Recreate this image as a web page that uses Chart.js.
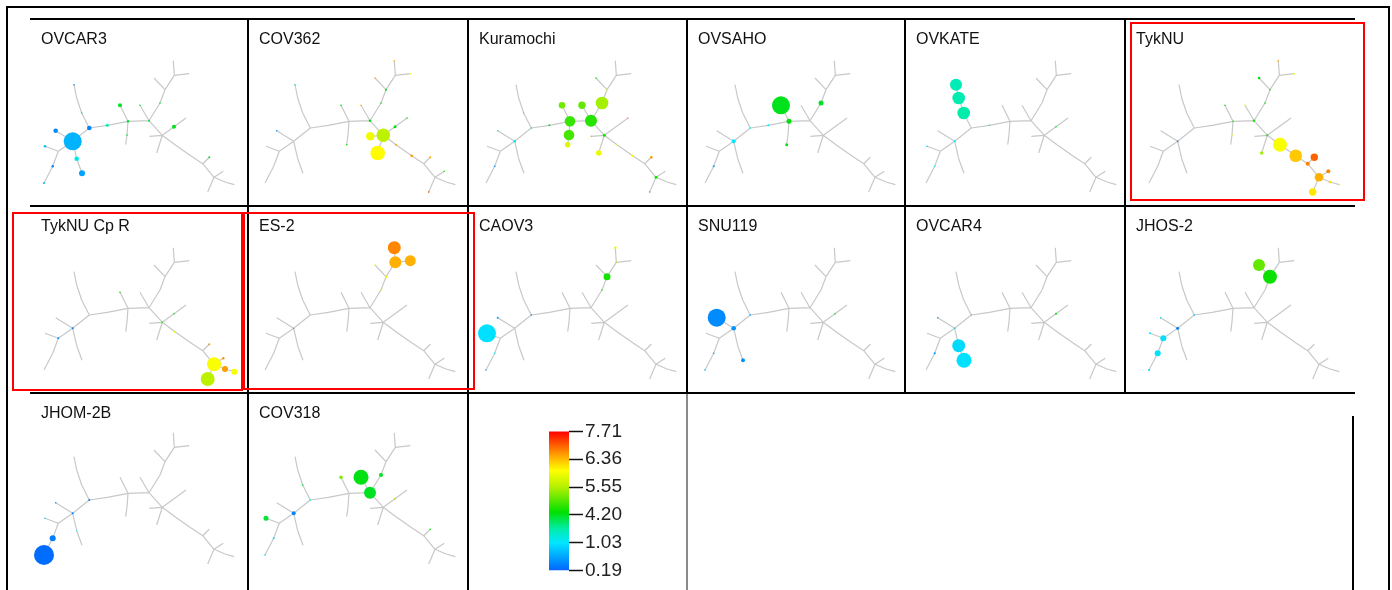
<!DOCTYPE html>
<html lang="en">
<head>
<meta charset="UTF-8">
<title>Cluster trees per cell line</title>
<script src="https://cdn.jsdelivr.net/npm/chart.js"></script>
<style>
  html, body { margin: 0; padding: 0; background: #fff; }
  #sheet { position: relative; width: 1392px; height: 590px; overflow: hidden; }
  #sheet canvas { position: absolute; }
  .ln { position: absolute; background: #000; }
  .box { position: absolute; border: 2px solid #ff0000; box-sizing: border-box; }
</style>
</head>
<body>
<div id="sheet">
  <!-- outer frame -->
  <div class="ln" style="left:6px;top:6px;width:1384px;height:2px"></div>
  <div class="ln" style="left:6px;top:6px;width:2px;height:590px"></div>
  <div class="ln" style="left:1388px;top:6px;width:2px;height:590px"></div>
  <!-- table rules -->
  <div class="ln" style="left:30px;top:18px;width:1325px;height:2px"></div>
  <div class="ln" style="left:30px;top:205px;width:1325px;height:2px"></div>
  <div class="ln" style="left:30px;top:392px;width:1325px;height:2px"></div>
  <div class="ln" style="left:247px;top:18px;width:2px;height:580px"></div>
  <div class="ln" style="left:467px;top:18px;width:2px;height:580px"></div>
  <div class="ln" style="left:686px;top:18px;width:2px;height:376px"></div>
  <div class="ln" style="left:686px;top:394px;width:2px;height:200px;background:#8a8a8a"></div>
  <div class="ln" style="left:904px;top:18px;width:2px;height:376px"></div>
  <div class="ln" style="left:1124px;top:18px;width:2px;height:376px"></div>
  <div class="ln" style="left:1352px;top:416px;width:2px;height:180px"></div>
</div>
<script>
// tree layout (same tree in every panel)
const nodeNames = ['A','n1','n2','n3','n4','n5','n6','n7','B','n9','n9b','n10','n11','C','n13','n14a','n14','D','n16','n17','E','n19','F','n21','n22','G','n24','n25','n26','n27','n28','n29','H','n31','I','n33','n34a','n34','n35'];
const nodeX = [62.7,45.7,48.3,35,42.7,34,66.7,72,79.3,71.7,66.7,64,97.3,118,110,117,115.7,139,130,150,155,144,164.3,163.3,179.3,152.3,139.3,146.7,164,176,165,180.7,192.7,199.3,204,213.3,215,224.3,197.7];
const nodeY = [123.3,112.7,133.3,128.3,148.3,165,140.7,155.3,110,95,80,66.7,107.3,103.3,87.3,117,126.7,102.7,87.3,85,71.7,60,57.3,42.7,55.7,117.3,118.3,135,108.7,100,126.7,137.7,145.7,139.3,159.3,153.3,164,166.7,174];
const treeEdges = [
  ['A','n1'],['A','n2'],['n2','n3'],['n2','n4'],['n4','n5'],['A','n6'],['n6','n7'],
  ['A','B'],['B','n9'],['n9','n9b'],['n9b','n10'],['B','n11'],['n11','C'],
  ['C','n13'],['C','n14a'],['n14a','n14'],['C','D'],['D','n16'],['D','n17'],['n17','E'],
  ['E','n19'],['E','F'],['F','n21'],['F','n22'],['D','G'],['G','n24'],['G','n25'],
  ['G','n26'],['n26','n27'],['G','n28'],['n28','n29'],['n29','H'],['H','n31'],['H','I'],
  ['I','n33'],['I','n34a'],['n34a','n34'],['I','n35']
];

// colour scale
const scaleTicks = [0.19, 1.03, 4.20, 5.55, 6.36, 7.71];
const scaleLabels = ['0.19', '1.03', '4.20', '5.55', '6.36', '7.71'];

// clusters per cell line: [node, value, radius]
const OVCAR3 = [['A',0.7,9],['n1',0.45,2.3],['n3',0.8,1.3],['n4',0.4,1.2],['n5',0.8,1],['n6',1.3,2.3],['n7',0.6,3],['B',0.4,2.3],['n11',2.5,1.5],['C',4.0,1.2],['n13',4.1,2],['n14a',4.0,0.8],['D',3.8,1],['n26',4.2,2],['n31',4.0,1],['n10',0.5,0.8],['n9',3.5,0.8],['n17',4.0,0.8],['n16',4.0,0.8]];
const COV362 = [['G',5.6,6.7],['n24',5.95,4.3],['n25',6.05,7.3],['D',4.3,1.2],['n26',4.3,1.5],['n27',4.2,0.8],['n28',6.5,1],['n29',6.6,1.3],['n31',6.5,1],['n33',4.5,0.8],['n35',7.3,0.8],['E',4.3,1],['n19',6.5,0.8],['n21',6.5,0.8],['n22',6.0,0.8],['n17',4.4,0.8],['n16',6.5,0.8],['n13',4.3,0.8],['n14',4.3,0.8],['n1',0.5,0.8],['n10',3.0,0.8]];
const Kuramochi = [['C',4.7,5.3],['D',4.6,6],['n17',5.45,6.3],['n16',5.0,3.7],['n13',5.1,3.3],['n14a',4.8,5.3],['n14',5.8,2.7],['n25',5.9,2.7],['n11',4.0,1],['B',2.0,0.8],['A',1.2,1.3],['n1',1.3,0.8],['n4',0.5,0.8],['n9',4.0,0.6],['G',4.5,1.5],['n24',6.5,0.8],['n28',5.9,0.8],['n29',6.0,1.3],['n31',6.6,1.3],['I',4.5,1.5],['n35',4.5,0.8],['n19',4.3,0.8],['E',5.9,0.8],['n27',7.5,0.6]];
const OVSAHO = [['n13',4.2,9],['C',4.3,2.5],['n17',4.1,2.5],['n14',4.2,1.5],['A',1.1,2],['n4',0.6,1],['n11',1.3,1],['B',1.5,0.8]];
const OVKATE = [['n10',2.4,6],['n9b',2.5,6.3],['n9',2.6,6.3],['n11',1.5,0.8],['A',1.1,1],['n3',0.9,0.8],['n4',1.1,0.8],['n26',4.2,0.8]];
const TykNU = [['n28',6.0,7],['n29',6.3,6.3],['n31',7.0,3.7],['H',6.8,2],['I',6.45,4.3],['n33',6.75,2],['n34a',6.2,1.3],['n34',5.95,0.8],['n35',6.15,3.7],['n25',5.4,1.7],['G',4.5,1],['n19',4.3,1.3],['E',4.4,0.8],['n17',4.4,0.8],['n21',6.6,0.8],['n22',5.9,0.8],['D',4.5,1.2],['n16',5.9,0.8],['C',4.5,0.8],['n13',4.4,0.8],['n14a',5.9,0.8],['A',0.3,0.8]];
const TykNUCpR = [['I',6.0,7],['n35',5.6,7],['n34a',6.6,3],['n34',6.0,3],['n33',6.7,1.2],['n31',6.6,1],['n28',5.9,1],['A',0.4,1],['n2',0.5,1],['n13',4.3,0.8],['n26',4.4,0.8],['G',4.5,0.8]];
const ES2 = [['n21',6.75,6.5],['F',6.45,6],['n22',6.45,5.5],['E',5.9,1.2],['n19',6.0,0.8],['n17',5.8,0.8],['A',0.5,0.6]];
const CAOV3 = [['n3',1.0,9],['E',4.5,3.5],['n21',5.9,1.2],['F',5.5,0.8],['n1',0.6,1],['n4',1.0,0.8],['n5',0.6,0.8],['B',0.5,0.8],['n17',4.5,0.8]];
const SNU119 = [['n1',0.45,9],['A',0.5,2.3],['n7',0.5,2],['n4',0.6,0.8],['n5',0.7,0.8],['n26',4.2,0.8],['B',0.6,0.8]];
const OVCAR4 = [['n6',0.95,6.5],['n7',1.0,7.5],['n1',0.5,0.8],['n4',0.5,1],['A',0.8,0.8],['n26',4.2,1],['B',0.7,0.6]];
const JHOS2 = [['n19',5.0,6],['E',4.4,7],['n2',1.0,3],['n4',1.0,3],['A',0.4,1.5],['n3',1.0,1],['n5',0.9,1],['B',0.8,0.8],['n1',0.9,0.8]];
const JHOM2B = [['n5',0.25,10],['n4',0.35,3],['A',0.4,1],['B',0.4,1],['n1',0.5,0.8],['n3',0.8,0.8],['n6',1.0,0.6]];
const COV318 = [['n16',4.25,7.5],['D',4.15,6],['n17',4.1,2],['n13',5.2,1.8],['n3',3.9,2.5],['A',0.4,2],['n4',1.0,1],['n5',0.9,0.8],['B',2.0,0.8],['n26',5.5,1],['n31',4.3,0.8],['n9',4.0,0.8]];

const panelNames = ['OVCAR3','COV362','Kuramochi','OVSAHO','OVKATE','TykNU','TykNU Cp R','ES-2','CAOV3','SNU119','OVCAR4','JHOS-2','JHOM-2B','COV318'];
const panelCells = [OVCAR3, COV362, Kuramochi, OVSAHO, OVKATE, TykNU, TykNUCpR, ES2, CAOV3, SNU119, OVCAR4, JHOS2, JHOM2B, COV318];

// page layout
const colLeft = [30, 248, 468, 687, 905, 1125];
const colRight = [248, 468, 687, 905, 1125, 1355];
const rowTop = [19, 206, 393];
const rowBottom = [206, 393, 590];
const treeShiftX = [10, 231, 452, 671, 892, 1115];
const treeShiftY = [18, 205, 390];
const titleBlock = 16 * 1.2 + 10 + 4;

const colorStops = [
  [0, [0, 100, 255]], [0.2, [0, 230, 255]], [0.3, [0, 236, 170]], [0.42, [0, 224, 0]],
  [0.6, [180, 240, 0]], [0.72, [255, 255, 0]], [0.82, [255, 170, 0]], [1, [255, 0, 0]]
];
const rgb = c => 'rgb(' + c.map(Math.round).join(',') + ')';

function scalePos(v) {
  const n = scaleTicks.length - 1;
  if (v <= scaleTicks[0]) return 0;
  for (let i = 0; i < n; i++) {
    if (v <= scaleTicks[i + 1]) {
      return (i + (v - scaleTicks[i]) / (scaleTicks[i + 1] - scaleTicks[i])) / n;
    }
  }
  return 1;
}
function colorFor(v) {
  const p = scalePos(v);
  for (let i = 0; i < colorStops.length - 1; i++) {
    const [p0, c0] = colorStops[i], [p1, c1] = colorStops[i + 1];
    if (p <= p1) {
      const t = (p - p0) / (p1 - p0);
      return rgb(c0.map((c, k) => c + (c1[k] - c) * t));
    }
  }
  return rgb(colorStops[colorStops.length - 1][1]);
}

const nodeIdx = name => nodeNames.indexOf(name);
const edgePoints = [];
treeEdges.forEach(([a, b]) => {
  edgePoints.push({x: nodeX[nodeIdx(a)], y: nodeY[nodeIdx(a)]});
  edgePoints.push({x: nodeX[nodeIdx(b)], y: nodeY[nodeIdx(b)]});
  edgePoints.push({x: nodeX[nodeIdx(b)], y: null});
});

const sheet = document.getElementById('sheet');
const fontFamily = '"Liberation Sans", Arial, sans-serif';

panelNames.forEach((name, k) => {
  const row = Math.floor(k / 6), col = k % 6;
  const left = colLeft[col] + 1, top = rowTop[row] + 1;
  const w = colRight[col] - colLeft[col] - 1, h = rowBottom[row] - rowTop[row] - 1;
  const ox = treeShiftX[col], oy = treeShiftY[row];
  const cv = document.createElement('canvas');
  cv.width = w; cv.height = h;
  cv.style.left = left + 'px'; cv.style.top = top + 'px';
  sheet.insertBefore(cv, sheet.firstChild);
  const cells = panelCells[k];
  new Chart(cv, {
    type: 'bubble',
    data: {
      datasets: [
        {
          type: 'bubble',
          order: 0,
          data: cells.map(([n, v, r]) => ({x: nodeX[nodeIdx(n)], y: nodeY[nodeIdx(n)], r: r})),
          backgroundColor: cells.map(c => colorFor(c[1])),
          borderWidth: 0,
          clip: false
        },
        {
          type: 'line',
          order: 1,
          data: edgePoints,
          borderColor: '#c8c8c8',
          borderWidth: 1.2,
          pointRadius: 0,
          spanGaps: false,
          fill: false,
          clip: false
        }
      ]
    },
    options: {
      responsive: false,
      animation: false,
      events: [],
      layout: { padding: { left: 10 }, autoPadding: false },
      plugins: {
        legend: { display: false },
        tooltip: { enabled: false },
        title: {
          display: true,
          text: name,
          align: 'start',
          color: '#111',
          font: { family: fontFamily, size: 16, weight: 'normal', lineHeight: 1.2 },
          padding: { top: 10, bottom: 4 }
        }
      },
      scales: {
        x: { type: 'linear', display: false, min: left + 10 - ox, max: left + w - ox },
        y: { type: 'linear', display: false, reverse: true, min: top + titleBlock - oy, max: top + h - oy }
      }
    }
  });
});

// colour bar
const cb = document.createElement('canvas');
cb.width = 100; cb.height = 166;
cb.style.left = '549px'; cb.style.top = '418px';
sheet.appendChild(cb);
new Chart(cb, {
  type: 'bar',
  data: {
    labels: ['scale'],
    datasets: [{
      data: [[0, scaleLabels.length - 1]],
      backgroundColor: ctx => {
        const area = ctx.chart.chartArea;
        if (!area) return '#ffffff';
        const g = ctx.chart.ctx.createLinearGradient(0, area.bottom, 0, area.top);
        colorStops.forEach(([p, c]) => g.addColorStop(p, rgb(c)));
        return g;
      },
      borderWidth: 0,
      categoryPercentage: 1,
      barPercentage: 1
    }]
  },
  options: {
    responsive: false,
    animation: false,
    events: [],
    layout: { padding: { top: 12, bottom: 12 }, autoPadding: false },
    plugins: { legend: { display: false }, tooltip: { enabled: false } },
    scales: {
      x: { display: false },
      y: {
        position: 'right',
        min: 0,
        max: scaleLabels.length - 1,
        afterFit: s => { s.width = 80; },
        border: { display: false },
        grid: { drawOnChartArea: false, drawTicks: true, tickLength: 14, tickColor: '#111', tickWidth: 1.5 },
        ticks: {
          stepSize: 1,
          padding: 2,
          color: '#222',
          font: { family: fontFamily, size: 19 },
          callback: v => scaleLabels[v]
        }
      }
    }
  }
});

// red highlight boxes
[[1130, 22, 235, 179], [12, 212, 231, 179], [243, 212, 232, 178]].forEach(([l, t, w, h]) => {
  const d = document.createElement('div');
  d.className = 'box';
  d.style.left = l + 'px'; d.style.top = t + 'px';
  d.style.width = w + 'px'; d.style.height = h + 'px';
  sheet.appendChild(d);
});
</script>
</body>
</html>
